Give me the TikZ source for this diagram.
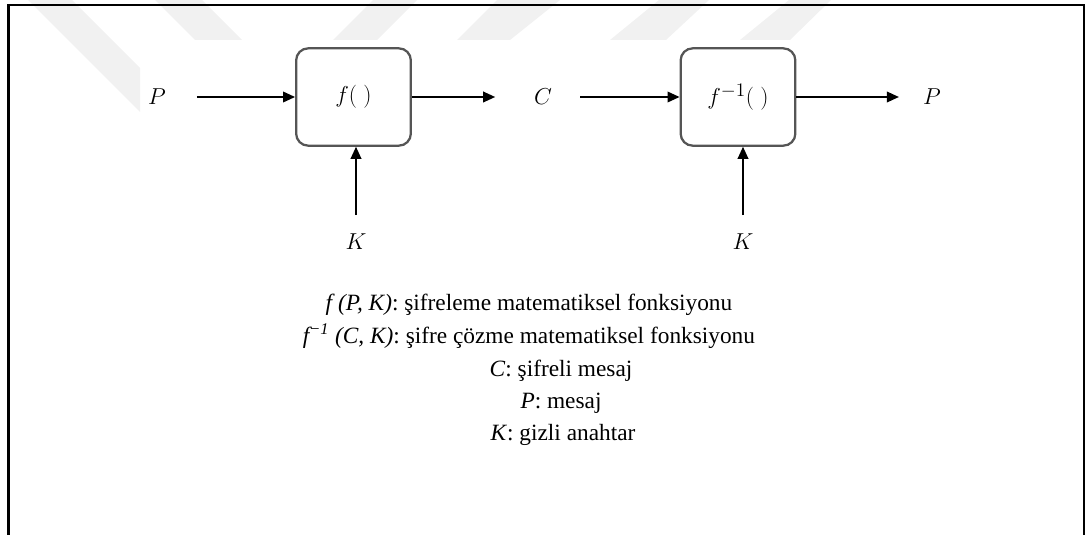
\documentclass[tikz,border=0pt]{standalone}
\usepackage{fontspec}
\setmainfont{Liberation Serif}
\usetikzlibrary{arrows.meta}

\definecolor{boxgray}{HTML}{555555}
\definecolor{markgray}{HTML}{F1F1F1}

\tikzset{
  block/.style={draw=boxgray, line width=1.7pt, rounded corners=9pt,
    minimum width=86pt, minimum height=73pt, inner sep=0pt},
  flow/.style={line width=1.1pt, -{Triangle[length=9pt,width=8pt]}},
  lbl/.style={inner sep=0pt},
  legend/.style={inner sep=0pt, anchor=base, font=\fontsize{17.5}{21}\selectfont}
}

\begin{document}
\begin{tikzpicture}[x=0.75pt,y=-0.75pt,font=\fontsize{19}{22}\selectfont]
  \useasboundingbox (0,0) rectangle (1086,535);

  % faint stripes along the top
  \fill[markgray] (28,0) -- (72,0) -- (140,68) -- (140,112) -- cycle;
  \fill[markgray] (155,0) -- (202,0) -- (242,40) -- (195,40) -- cycle;
  \fill[markgray] (333,40) -- (373,0) -- (417,0) -- (377,40) -- cycle;
  \fill[markgray] (457,40) -- (497,0) -- (560,0) -- (510,40) -- cycle;
  \fill[markgray] (610,40) -- (659,0) -- (709,0) -- (666,40) -- cycle;
  \fill[markgray] (740,40) -- (789,0) -- (831,0) -- (790,40) -- cycle;

  % frame
  \draw[line width=1.9pt] (8.5,535) -- (8.5,5) -- (1084,5) -- (1084,535);

  % blocks
  \node[block] (enc) at (353.5,97) {$f(\;)$};
  \node[block] (dec) at (738,97) {$f^{-1}(\;)$};

  % inputs and outputs
  \node[lbl] (pin) at (157,97) {$P$};
  \node[lbl] (cmid) at (543,97) {$C$};
  \node[lbl] (pout) at (932,97) {$P$};
  \node[lbl] (kenc) at (356,242) {$K$};
  \node[lbl] (kdec) at (743,242) {$K$};

  \draw[flow, shorten <=23pt] (pin) -- (enc);
  \draw[flow, shorten >=29pt] (enc) -- (cmid);
  \draw[flow, shorten <=21pt] (cmid) -- (dec);
  \draw[flow, shorten >=18pt] (dec) -- (pout);
  \draw[flow, shorten <=14pt] (kenc) -- (kenc |- enc.south);
  \draw[flow, shorten <=14pt] (kdec) -- (kdec |- dec.south);

  % legend
  \node[legend] (l1) at (529,310) {\textit{f (P, K)}: şifreleme matematiksel fonksiyonu};
  \node[legend] (l2) at (529,343) {\textit{f\textsuperscript{−1} (C, K)}: şifre çözme matematiksel fonksiyonu};
  \node[legend] (l3) at (561,376) {\textit{C}: şifreli mesaj};
  \node[legend] (l4) at (561,408) {\textit{P}: mesaj};
  \node[legend] (l5) at (563,440) {\textit{K}: gizli anahtar};
\end{tikzpicture}
\end{document}
